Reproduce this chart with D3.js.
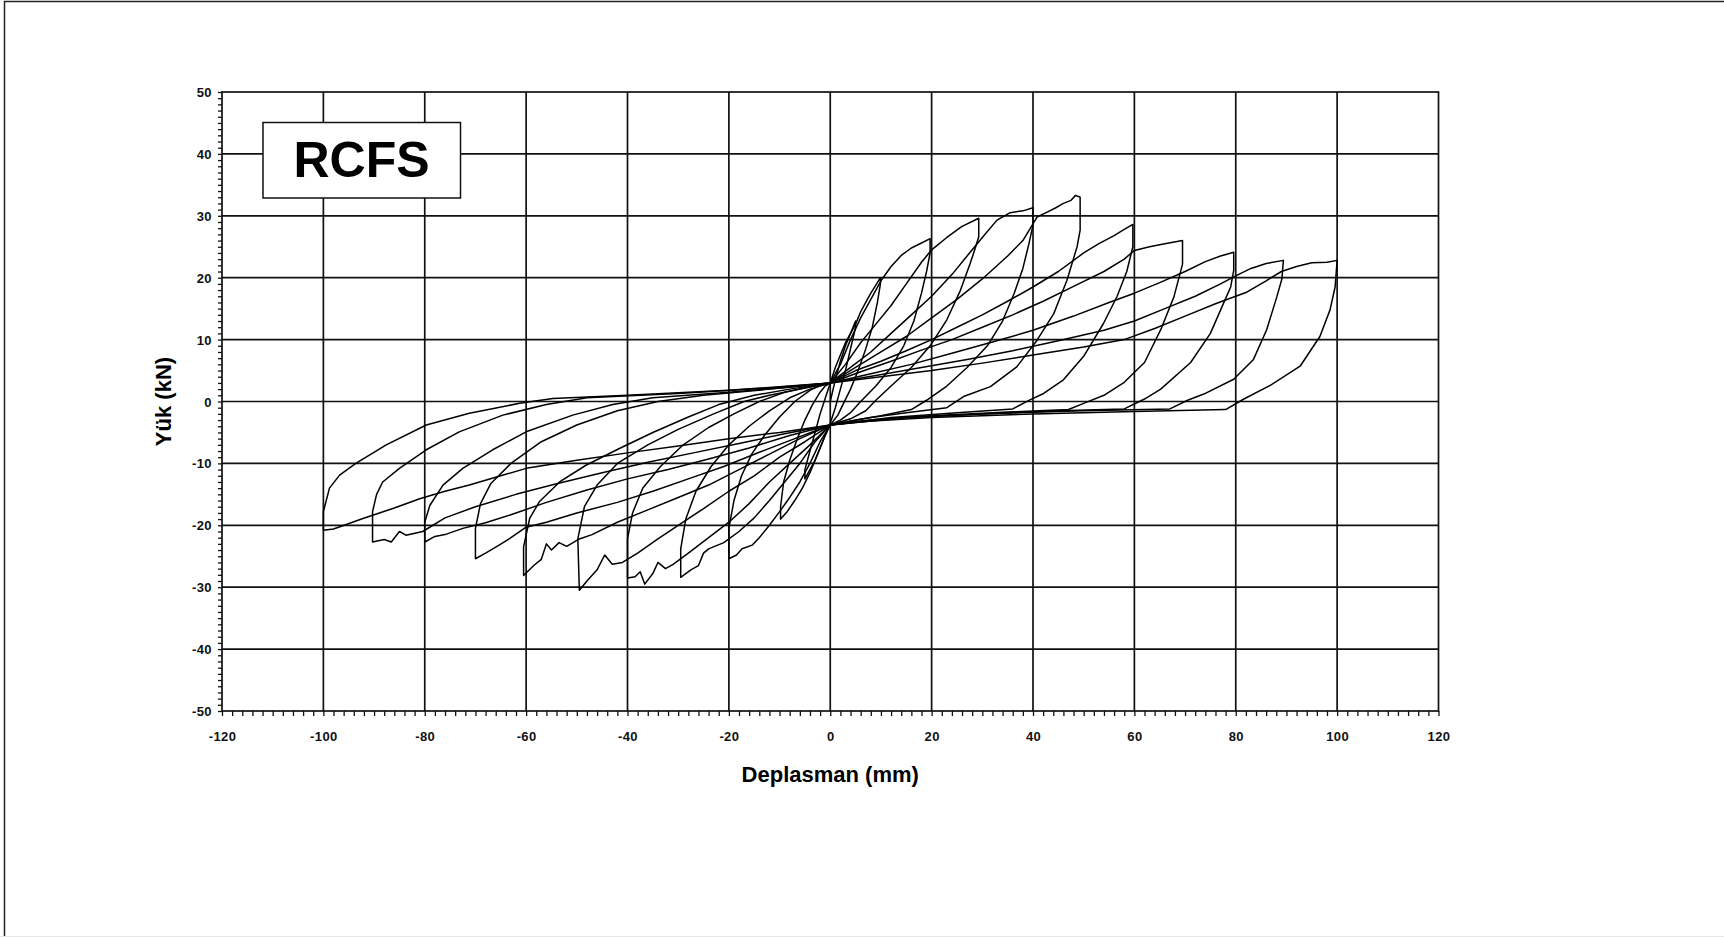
<!DOCTYPE html>
<html><head><meta charset="utf-8">
<script src="https://cdn.jsdelivr.net/npm/d3@7"></script>
<style>
html,body{margin:0;padding:0;background:#fff;}
svg{display:block;}
</style></head><body>
<svg id="chart" width="1724" height="937"></svg>
<script>
// ---- tick labels / text ----
const xTicks = [-120,-100,-80,-60,-40,-20,0,20,40,60,80,100,120];
const yTicks = [-50,-40,-30,-20,-10,0,10,20,30,40,50];
const xTitle = "Deplasman (mm)";
const yTitle = "Yük (kN)";
const boxLabel = "RCFS";

// ---- hysteresis loops (displacement mm, load kN) ----
const loop5 = [[0,0],[1,3.5],[2,6.5],[3,9],[4,11],[5,13],[5,12],[4,8.5],[3,5],[2,2],[1,-1],[0,-3.5],
 [-1,-5.5],[-2,-7.5],[-3,-9.5],[-4,-11],[-5,-12.5],[-5,-11],[-4,-8],[-3,-5],[-2,-2],[-1,0.5],[0,3]];
const loop10 = [[0,3],[1,5.5],[2,7.5],[3,9.5],[4,11],[5,12.5],[6,14.5],[7,16],[8,17.5],[9,18.8],[9.9,20],
 [9.9,19],[9.3,16],[8.3,12],[7,8.5],[5.5,5],[4,2],[2.5,-0.5],[1.5,-2.2],[0,-3.8],
 [-1,-5.5],[-2.5,-8.5],[-4,-11.5],[-5.5,-14],[-7,-16],[-8.5,-17.8],[-9.8,-19],
 [-9.8,-17],[-9.2,-13],[-8,-9.5],[-6.5,-6],[-5,-3],[-3.5,-0.5],[-2,1.5],[-1,2.5],[0,3]];
const loop20 = [[0,3],[2,6],[4,10],[6,13.5],[8,16.5],[10,19.5],[12,21.8],[14,23.6],[16,24.8],[18,25.6],[19.7,26.3],
 [19.7,24],[19,21],[18,17.5],[16.5,13],[14.5,9],[12,5.5],[9,2.5],[6,0],[4,-1.8],[2,-3],[0,-3.8],
 [-2,-6.5],[-4,-10],[-6,-13],[-8,-15.5],[-10,-17.8],[-12,-20],[-14,-22],[-15.4,-23.2],[-17.4,-23.8],[-18.5,-24.8],[-20,-25.4],
 [-20,-20.5],[-19,-16],[-17.5,-12],[-15.5,-8.5],[-13,-5.5],[-10,-2.5],[-7,0],[-4,1.8],[-2,2.6],[0,3]];
const loop30 = [[0,3],[3,6],[6,9.5],[9,12.5],[12,15.5],[15,19],[18,22.5],[20,24.5],[23,26.5],[26,28.3],[29.3,29.6],
 [29.3,26.6],[28.5,24.5],[27.6,22.3],[25.7,18],[23,13.2],[19.7,9],[16,5.5],[12,2.5],[9,0.2],[7,-1.5],[4,-2.8],[0,-3.8],
 [-3,-6.5],[-6,-10],[-9,-13],[-12,-16],[-15,-18.8],[-18,-21],[-21,-22.8],[-24,-23.8],[-25,-24.5],[-26,-26.5],[-27.5,-27.2],[-29.5,-28.4],
 [-29.5,-23.8],[-28.5,-19],[-26.5,-14.5],[-23.5,-10.5],[-20,-7],[-16,-4],[-12,-1.5],[-8,0.6],[-4,2],[0,3]];
const loop40 = [[0,3],[4,5.5],[8,8],[12,11],[16,14],[20,17],[24,20.5],[27,23.5],[30,26.5],[32.9,29.3],[35.5,30.5],[38,30.8],[40,31.3],
 [40,28.5],[39.2,25.5],[38,21.5],[36.3,17.5],[34,13],[31,9],[27,5.5],[23,2.5],[19,0.2],[16,-1.3],[10,-2.3],[5,-3],[0,-3.8],
 [-4,-7],[-8,-10],[-12,-13],[-16,-16.5],[-20,-19.5],[-24,-22],[-28,-24.5],[-31,-26.3],[-32.5,-27],[-34,-26],[-35,-27.8],[-36.6,-29.5],[-37.5,-27.5],[-38.5,-28.3],[-40,-28.5],
 [-40,-22.2],[-39,-18],[-37,-14],[-33.5,-10.5],[-29,-7],[-24,-4.2],[-19,-2],[-14,0],[-9,1.5],[-4,2.4],[0,3]];
const loop50 = [[0,3],[5,5.5],[10,8],[15,10.5],[20,13.5],[25,16.5],[30,19.8],[35,23.5],[38,26],[40.8,29.8],[42.8,30.6],[44.5,31.3],[46,32],[47.5,32.5],[48.4,33.3],[49.3,33],
 [49.3,27.7],[48.7,25],[46.7,19.6],[44.1,14.2],[40.8,9.9],[36.8,5.6],[31.6,2.4],[26.3,0.8],[23,-1],[15,-1.8],[8,-2.6],[0,-3.8],
 [-5,-6.5],[-10,-9],[-15,-12],[-20,-14.5],[-25,-17.3],[-30,-20],[-34,-22.2],[-38,-24.5],[-41,-26],[-43,-26.3],[-44.5,-24.8],[-46,-27.2],[-48,-29],[-49.5,-30.5],
 [-49.8,-22.2],[-48.5,-17],[-46,-13.5],[-42,-10],[-36,-7],[-30,-4.5],[-23,-2],[-17,0],[-12,1],[-6,2],[0,3]];
const loop60 = [[0,3],[5,5],[10,6.5],[15,8.2],[20,10],[25,12],[30,14],[35,16.2],[40,18.5],[45,21],[50,24],[53,25.5],[56,26.8],[58,27.8],[59.7,28.6],
 [59.7,25],[58.5,21],[56.6,17],[53.9,12.6],[50,7.3],[46,3.5],[42.1,1.3],[39.5,0.3],[36,-1.2],[25,-1.8],[12,-2.6],[0,-3.8],
 [-6,-6],[-12,-8.5],[-18,-11],[-24,-13.5],[-30,-15.5],[-36,-17.5],[-42,-19.5],[-47,-21.5],[-49.5,-22.2],[-52,-23.4],[-53.5,-22.8],[-55,-24],[-56,-23],[-57,-25.5],[-58.5,-26.5],[-60.5,-28.1],
 [-60.5,-23.5],[-59.3,-18.9],[-57.4,-16.2],[-53.4,-13],[-48.2,-10.3],[-41.6,-7.6],[-35,-5],[-28,-2.5],[-22,-0.5],[-15,1],[-8,2],[0,3]];
const loop70 = [[0,3],[6,4.8],[12,6.5],[18,8.3],[24,10],[30,12],[36,14],[42,16.2],[48,18.6],[54,21],[58,23],[60,24.4],[63,25],[66,25.5],[69.5,26],
 [69.5,22.2],[67.8,16.9],[65.2,11.6],[62,6.3],[58,3.1],[54,1],[50,-0.3],[47,-1.3],[35,-1.7],[20,-2.3],[8,-3],[0,-3.8],
 [-7,-6],[-14,-8.2],[-21,-10.5],[-28,-12.5],[-35,-14.5],[-42,-16.3],[-50,-18],[-56,-19.5],[-60,-20.3],[-63,-22],[-65.5,-23.3],[-68,-24.5],[-70,-25.4],
 [-70,-20.5],[-69,-16.5],[-67,-13.3],[-63,-10],[-57,-6.5],[-50,-3.8],[-42,-1.5],[-34,0],[-25,1],[-12,2],[0,3]];
const loop80 = [[0,3],[8,4.5],[16,6],[24,7.8],[32,9.6],[40,11.5],[48,13.8],[55,16],[60,17.5],[65,19.2],[70,21],[74,22.6],[77,23.5],[79.6,24.1],
 [79.6,21.2],[79,18.5],[77.6,15.9],[75,11],[71.1,6.3],[65.2,2],[62,0.4],[58,-1.2],[45,-1.5],[30,-2],[15,-2.6],[0,-3.8],
 [-8,-5.5],[-16,-7.5],[-24,-9.3],[-32,-11],[-40,-12.5],[-48,-14.3],[-56,-16.3],[-63,-18.3],[-68,-19.6],[-72.5,-20.5],[-76,-21.5],[-78,-21.8],[-80,-22.7],
 [-80,-19.5],[-79,-16.8],[-76.4,-13.5],[-72.5,-10.8],[-66.6,-7.8],[-60,-4.9],[-50.8,-2.2],[-42.9,-0.5],[-35,0.6],[-20,1.5],[-8,2.3],[0,3]];
const loop90 = [[0,3],[9,4.2],[18,5.5],[27,6.8],[36,8.2],[45,9.8],[54,11.5],[60,13],[66,15],[72,17],[77,19],[80,20.3],[83,21.5],[86,22.3],[89.4,22.8],
 [89.1,19.8],[88.1,16.9],[86.1,11.6],[83.5,6.8],[79.6,3.6],[73.7,1.2],[70.5,0.2],[67,-1.2],[50,-1.5],[30,-2],[15,-2.6],[0,-3.8],
 [-9,-5.2],[-18,-6.8],[-27,-8.3],[-36,-9.8],[-45,-11.5],[-54,-13.3],[-62,-15],[-70,-17],[-76,-18.8],[-80.4,-21],[-83.7,-21.6],[-85,-21],[-86.6,-22.7],[-88,-22.3],[-90.3,-22.7],
 [-90.3,-17.8],[-89.5,-15],[-88.3,-13],[-85,-10.8],[-79.7,-7.8],[-73.2,-4.9],[-64.6,-2.2],[-56,-0.5],[-48,0.6],[-30,1.3],[-12,2.2],[0,3]];
const loop100 = [[0,3],[10,4],[20,5],[30,6.2],[40,7.5],[50,8.8],[58,10],[64,11.8],[70,13.8],[76,15.8],[82,17.6],[86,19.5],[89,21],[92,21.8],[95,22.4],[98,22.5],[100,22.8],
 [99.6,18.5],[98.6,14.8],[96.6,10.5],[92.7,5.7],[86.8,2.6],[81.6,0.4],[78,-1.3],[60,-1.6],[40,-2],[20,-2.6],[5,-3.3],[0,-3.8],
 [-10,-5],[-20,-6],[-30,-7.2],[-40,-8.3],[-50,-9.5],[-60,-10.8],[-65,-12],[-71.2,-13.5],[-76,-14.5],[-81,-15.7],[-86,-17.2],[-92.2,-18.9],[-95.9,-20],[-98,-20.6],[-100,-20.8],
 [-100,-17.8],[-98.8,-14],[-96.8,-11.9],[-93.6,-10],[-87.6,-7],[-79.7,-3.8],[-71.2,-1.9],[-61.3,-0.3],[-54.7,0.5],[-40,1],[-20,1.8],[0,3]];

const loops = [loop5, loop10, loop20, loop30, loop40, loop50, loop60, loop70, loop80, loop90, loop100];

// ---- drawing ----
const svg = d3.select("#chart");
const x = d3.scaleLinear().domain([-120,120]).range([222,1438.5]);
const y = d3.scaleLinear().domain([-50,50]).range([711,92]);
const FONT = "'Liberation Sans', Arial, sans-serif";

svg.append("rect").attr("width",1724).attr("height",937).attr("fill","#fff");
// outer page border (left/top)
svg.append("path").attr("d","M4.5,937 V1.5 H1724").attr("fill","none").attr("stroke","#222").attr("stroke-width",1.5);
svg.append("line").attr("x1",0).attr("x2",1724).attr("y1",936.5).attr("y2",936.5).attr("stroke","#e6e6e6");

// grid
const grid = svg.append("g").attr("stroke","#111").attr("stroke-width",1.7);
grid.selectAll("line.v").data(xTicks.slice(1,-1)).join("line")
  .attr("x1",d=>x(d)).attr("x2",d=>x(d)).attr("y1",y(50)).attr("y2",y(-50));
grid.selectAll("line.h").data(yTicks.slice(1,-1)).join("line").attr("class","h")
  .attr("x1",x(-120)).attr("x2",x(120)).attr("y1",d=>y(d)).attr("y2",d=>y(d));

// minor ticks
const xMinor = svg.append("g").attr("transform",`translate(0,${y(-50)})`)
  .call(d3.axisBottom(x).ticks(120).tickSize(5).tickFormat(""));
const yMinor = svg.append("g").attr("transform",`translate(${x(-120)},0)`)
  .call(d3.axisLeft(y).ticks(100).tickSize(4).tickFormat(""));
[xMinor,yMinor].forEach(g=>{g.select(".domain").remove(); g.selectAll("line").attr("stroke","#111").attr("stroke-width",1.3);});

// tick labels
const xLab = svg.append("g").attr("transform",`translate(0,${y(-50)})`)
  .call(d3.axisBottom(x).tickValues(xTicks).tickSize(0).tickPadding(21).tickFormat(d3.format("d")));
const yLab = svg.append("g").attr("transform",`translate(${x(-120)},0)`)
  .call(d3.axisLeft(y).tickValues(yTicks).tickSize(0).tickPadding(10).tickFormat(d3.format("d")));
[xLab,yLab].forEach(g=>{g.select(".domain").remove();
  g.selectAll("text").attr("font-family",FONT).attr("font-size",13).attr("font-weight","bold")
   .attr("letter-spacing","0.4px").attr("fill","#111").text(d=>String(d));});
yLab.selectAll("text").attr("dy","0.35em");

// hysteresis curves
const line = d3.line().x(d=>x(d[0])).y(d=>y(d[1]));
svg.append("clipPath").attr("id","plotclip").append("rect")
  .attr("x",x(-120)).attr("y",y(50)).attr("width",x(120)-x(-120)).attr("height",y(-50)-y(50));
svg.append("g").attr("clip-path","url(#plotclip)")
  .selectAll("path").data(loops).join("path")
  .attr("d",line).attr("fill","none").attr("stroke","#000").attr("stroke-width",1.5)
  .attr("stroke-linejoin","round");

// plot frame
svg.append("rect").attr("x",x(-120)).attr("y",y(50)).attr("width",x(120)-x(-120)).attr("height",y(-50)-y(50))
  .attr("fill","none").attr("stroke","#111").attr("stroke-width",1.7);

// RCFS box
svg.append("rect").attr("x",263).attr("y",122.5).attr("width",197.5).attr("height",75.5)
  .attr("fill","#fff").attr("stroke","#111").attr("stroke-width",1.5);
svg.append("text").attr("x",361.5).attr("y",177).attr("text-anchor","middle")
  .attr("font-family",FONT).attr("font-weight","bold").attr("font-size",50).attr("fill","#000").text(boxLabel);

// axis titles
svg.append("text").attr("x",x(0)).attr("y",782).attr("text-anchor","middle")
  .attr("font-family",FONT).attr("font-weight","bold").attr("font-size",22).attr("fill","#000").text(xTitle);
svg.append("text").attr("transform",`translate(171,${y(0)}) rotate(-90)`).attr("text-anchor","middle")
  .attr("font-family",FONT).attr("font-weight","bold").attr("font-size",22).attr("fill","#000").text(yTitle);
</script>
</body></html>
